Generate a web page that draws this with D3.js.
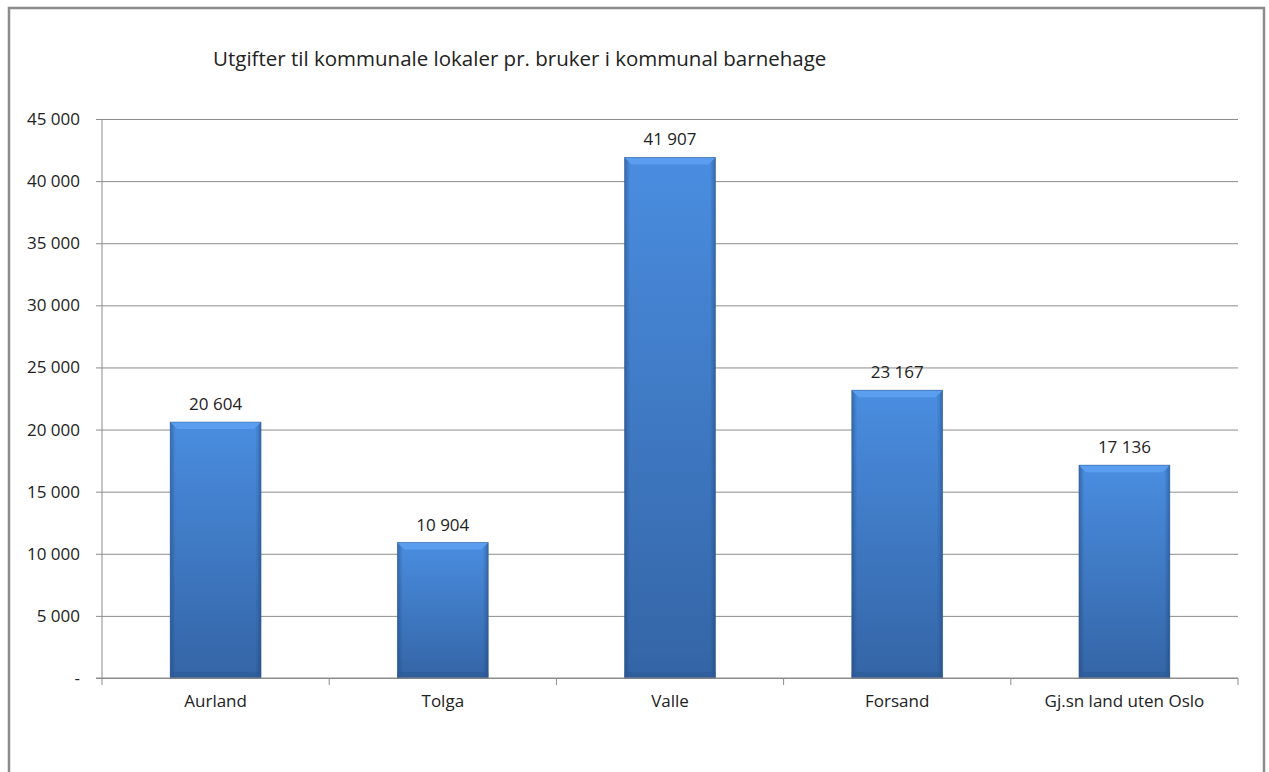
<!DOCTYPE html>
<html><head><meta charset="utf-8">
<script src="https://cdn.jsdelivr.net/npm/d3@7"></script>
<style>body{margin:0;background:#fff}svg{display:block}text{font-family:"Open Sans",sans-serif;fill:#222}</style>
</head><body>
<script>
const categories = ["Aurland","Tolga","Valle","Forsand","Gj.sn land uten Oslo"];
const values = [20604,10904,41907,23167,17136];
const yTicks = [0,5000,10000,15000,20000,25000,30000,35000,40000,45000];
const title = "Utgifter til kommunale lokaler pr. bruker i kommunal barnehage";

(function(){
const W=1269,H=772;
const svg=d3.select("body").append("svg").attr("width",W).attr("height",H);
const pL=102,pR=1238,pT=119,pB=678;
const x=d3.scaleBand().domain(categories).range([pL,pR]).paddingInner(0.6).paddingOuter(0.3);
const y=d3.scaleLinear().domain([0,45000]).range([pB,pT]);
const fmt=v=>v===0?"-":d3.format(",")(v).replace(/,/g," ");
const fs=17;

svg.append("path").attr("d",`M9,772 V8 H1264 V772`).attr("fill","none").attr("stroke","#8c8c8c").attr("stroke-width",2.5);

const defs=svg.append("defs");
const gv=defs.append("linearGradient").attr("id","gv").attr("x1",0).attr("y1",0).attr("x2",0).attr("y2",1);
gv.append("stop").attr("offset","0%").attr("stop-color","#4a8de0");
gv.append("stop").attr("offset","100%").attr("stop-color","#3465a6");
const gh=defs.append("linearGradient").attr("id","gh").attr("x1",0).attr("y1",0).attr("x2",1).attr("y2",0);
gh.append("stop").attr("offset","0%").attr("stop-color","#1c3f70").attr("stop-opacity",0.45);
gh.append("stop").attr("offset","6%").attr("stop-color","#1c3f70").attr("stop-opacity",0);
gh.append("stop").attr("offset","94%").attr("stop-color","#1c3f70").attr("stop-opacity",0);
gh.append("stop").attr("offset","100%").attr("stop-color","#1c3f70").attr("stop-opacity",0.45);

const yAxis=d3.axisLeft(y).tickValues(yTicks).tickSize(-(pR-pL)).tickPadding(22).tickFormat(fmt);
const ga=svg.append("g").attr("transform",`translate(${pL},0)`).call(yAxis);
ga.select(".domain").remove();
ga.selectAll(".tick line").attr("stroke","#8c8c8c").attr("x1",-6);
ga.selectAll(".tick text").attr("font-size",fs).attr("fill","#222");
svg.append("line").attr("x1",pL).attr("x2",pL).attr("y1",pT).attr("y2",pB).attr("stroke","#8c8c8c");

const bw=x.bandwidth();
const bars=svg.append("g").selectAll("g").data(values).join("g");
bars.append("rect").attr("x",(d,i)=>x(categories[i])).attr("y",d=>y(d)).attr("width",bw).attr("height",d=>pB-y(d)).attr("fill","url(#gv)");
bars.append("rect").attr("x",(d,i)=>x(categories[i])).attr("y",d=>y(d)).attr("width",bw).attr("height",d=>pB-y(d)).attr("fill","url(#gh)");
bars.append("path").attr("d",(d,i)=>{const x0=x(categories[i]),y0=y(d);return `M${x0},${y0} H${x0+bw} L${x0+bw-7},${y0+7} H${x0+7} Z`;}).attr("fill","#5b9ef0");
bars.append("rect").attr("x",(d,i)=>x(categories[i])).attr("y",d=>pB-6).attr("width",bw).attr("height",6).attr("fill","#2d5a96").attr("opacity",0.6);
bars.append("rect").attr("x",(d,i)=>x(categories[i])).attr("y",d=>y(d)).attr("width",bw).attr("height",d=>pB-y(d)).attr("fill","none").attr("stroke","#2a568f").attr("stroke-width",0.8).attr("opacity",0.6);

svg.append("g").selectAll("text").data(values).join("text")
  .attr("x",(d,i)=>x(categories[i])+bw/2).attr("y",d=>y(d)-12).attr("text-anchor","middle").attr("font-size",fs).text(fmt);

const xAxis=d3.axisBottom(x).tickSize(0).tickPadding(17);
const gx=svg.append("g").attr("transform",`translate(0,${pB})`).call(xAxis);
gx.select(".domain").remove();
gx.selectAll(".tick text").attr("font-size",fs).attr("fill","#222");
svg.append("line").attr("x1",pL-6).attr("x2",pR).attr("y1",pB).attr("y2",pB).attr("stroke","#8c8c8c");
const bounds=d3.range(categories.length+1).map(i=>pL+i*x.step());
svg.append("g").selectAll("line").data(bounds).join("line").attr("x1",d=>d).attr("x2",d=>d).attr("y1",pB).attr("y2",pB+7).attr("stroke","#8c8c8c");

svg.append("text").attr("x",213).attr("y",66).attr("font-size",20.5).text(title);
})();
</script>
</body></html>
